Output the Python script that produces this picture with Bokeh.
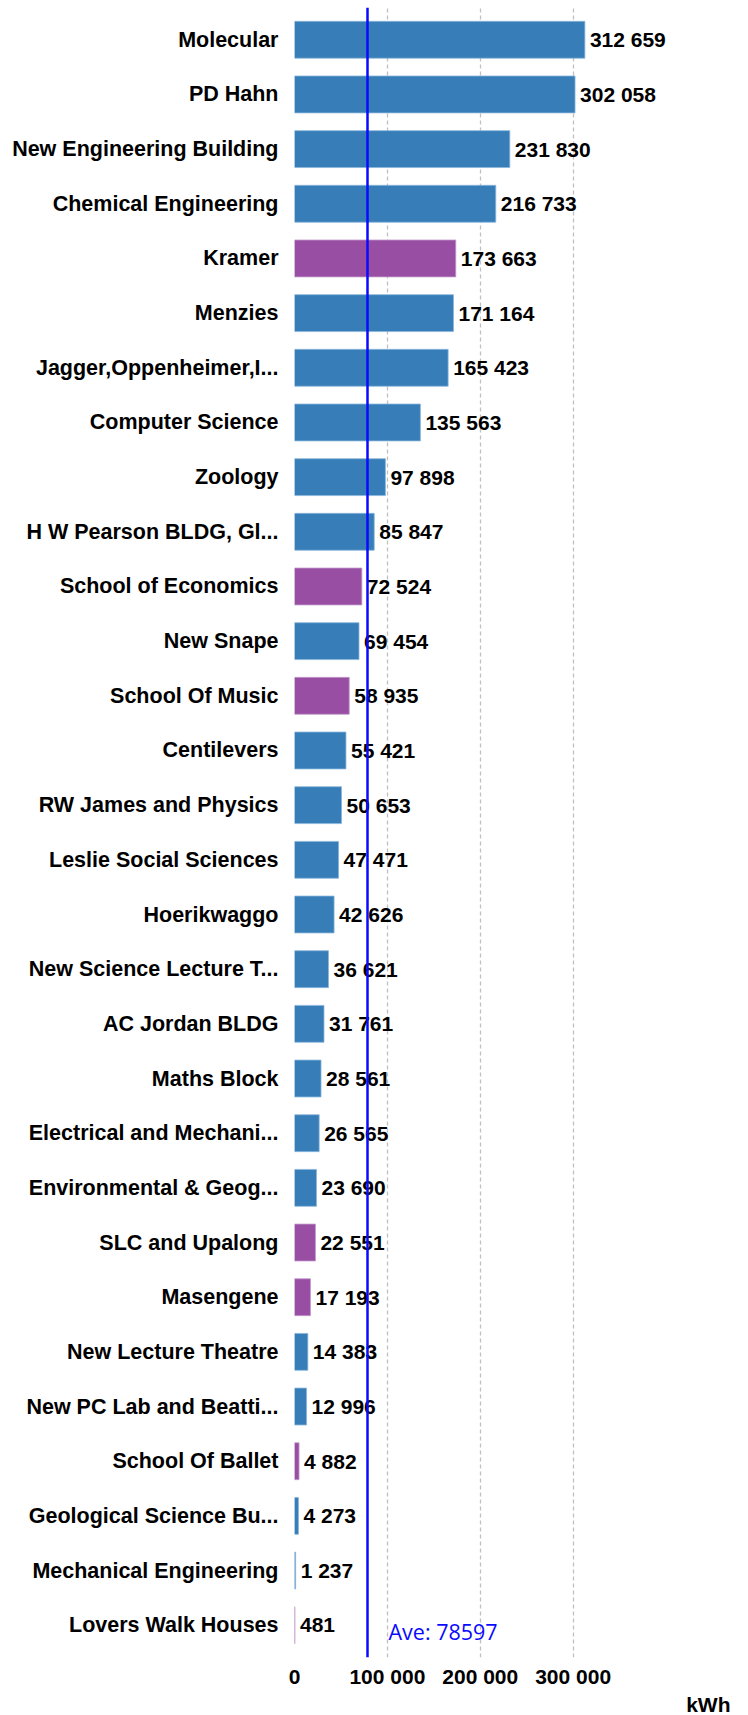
from bokeh.plotting import figure
from bokeh.models import (FactorRange, Range1d, FixedTicker, Span, Title, ColumnDataSource)
from bokeh.core.properties import value
from bokeh.embed import file_html
from bokeh.resources import INLINE

buildings = [
    "Molecular", "PD Hahn", "New Engineering Building", "Chemical Engineering",
    "Kramer", "Menzies", "Jagger,Oppenheimer,I...", "Computer Science", "Zoology",
    "H W Pearson BLDG, Gl...", "School of Economics", "New Snape", "School Of Music",
    "Centilevers", "RW James and Physics", "Leslie Social Sciences", "Hoerikwaggo",
    "New Science Lecture T...", "AC Jordan BLDG", "Maths Block",
    "Electrical and Mechani...", "Environmental & Geog...", "SLC and Upalong",
    "Masengene", "New Lecture Theatre", "New PC Lab and Beatti...", "School Of Ballet",
    "Geological Science Bu...", "Mechanical Engineering", "Lovers Walk Houses",
]
kwh = [
    312659, 302058, 231830, 216733, 173663, 171164, 165423, 135563, 97898,
    85847, 72524, 69454, 58935, 55421, 50653, 47471, 42626, 36621, 31761, 28561,
    26565, 23690, 22551, 17193, 14383, 12996, 4882, 4273, 1237, 481,
]
group = [
    "b", "b", "b", "b", "p", "b", "b", "b", "b", "b", "p", "b", "p", "b", "b",
    "b", "b", "b", "b", "b", "b", "b", "p", "p", "b", "b", "p", "b", "b", "p",
]
average = 78597
x_ticks = [0, 100000, 200000, 300000]
unit_label = "kWh"

BLUE = "#377eb8"
PURPLE = "#984ea3"
BLUE_EDGE = "#8ab6dc"
PURPLE_EDGE = "#c39bcb"
FONT = "Liberation Sans"


def fmt(v):
    return f"{v:,}".replace(",", " ")


src = ColumnDataSource(dict(
    cat=buildings,
    val=kwh,
    lab=[fmt(v) for v in kwh],
    col=[BLUE if g == "b" else PURPLE for g in group],
    edge=[BLUE_EDGE if g == "b" else PURPLE_EDGE for g in group],
))

px_per_unit = 0.92875 / 1000.0
frame_w = 748 - 294
p = figure(
    width=748, height=1715,
    y_range=FactorRange(factors=list(reversed(buildings)), range_padding=0.09,
                        range_padding_units="absolute"),
    x_range=Range1d(0, frame_w / px_per_unit),
    output_backend="svg", toolbar_location=None,
    min_border_left=294, min_border_right=0, min_border_top=7, min_border_bottom=51,
)
p.outline_line_color = None
p.background_fill_color = "white"

p.hbar(y="cat", right="val", height=0.675, left=0, source=src,
       fill_color="col", line_color="edge", line_width=0.8)

p.text(x="val", y="cat", text="lab", source=src, x_offset=5,
       text_baseline="middle", text_align="left",
       text_font=value(FONT), text_font_style="bold", text_font_size="21px",
       text_color="black")

avg_span = Span(location=average, dimension="height", line_color="#0a0aff", line_width=2.5)
p.add_layout(avg_span)

p.text(x=[average], y=[buildings[-1]], text=[f"Ave: {average}"], x_offset=21, y_offset=6,
       text_baseline="middle", text_align="left",
       text_font=value("Open Sans"), text_font_size="21.5px", text_color="#0a0aff")

# grid
p.ygrid.grid_line_color = None
p.xgrid.ticker = FixedTicker(ticks=x_ticks)
p.xgrid.grid_line_color = "#c0c0c0"
p.xgrid.grid_line_dash = "4 3"
p.xgrid.grid_line_width = 1.3

# x axis
xa = p.xaxis[0]
xa.ticker = FixedTicker(ticks=x_ticks)
xa.major_label_overrides = {t: fmt(t) for t in x_ticks}
xa.axis_line_color = None
xa.major_tick_line_color = None
xa.minor_tick_line_color = None
xa.major_tick_out = 0
xa.major_tick_in = 0
xa.major_label_standoff = 7
xa.major_label_text_font = FONT
xa.major_label_text_font_style = "bold"
xa.major_label_text_font_size = "21px"
xa.major_label_text_color = "black"

# y axis
ya = p.yaxis[0]
ya.axis_line_color = None
ya.major_tick_line_color = None
ya.minor_tick_line_color = None
ya.major_tick_out = 0
ya.major_tick_in = 0
ya.major_label_standoff = 16
ya.major_label_text_font = FONT
ya.major_label_text_font_style = "bold"
ya.major_label_text_font_size = "21.5px"
ya.major_label_text_color = "black"

unit = Title(text=unit_label, align="right", offset=18, standoff=0,
             text_font=FONT, text_font_style="bold", text_font_size="21px",
             text_color="black")
p.add_layout(unit, "below")

open("out.html", "w").write(file_html(p, INLINE))
